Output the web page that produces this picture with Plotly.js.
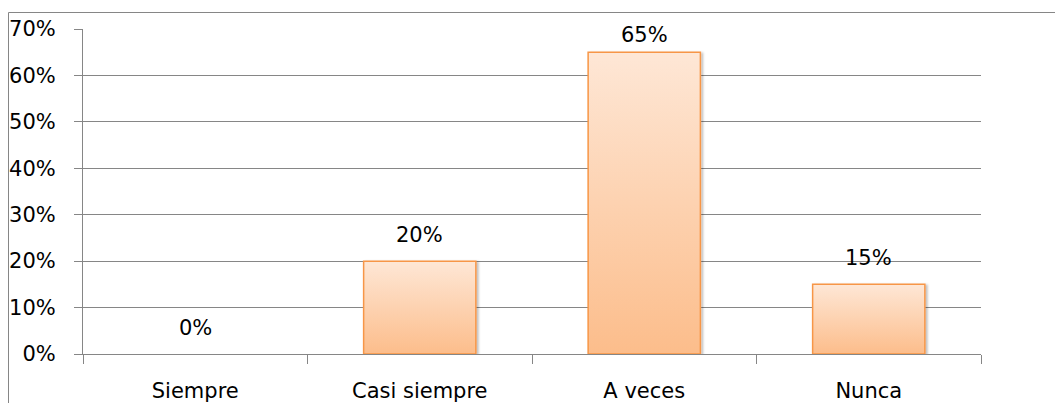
<!DOCTYPE html>
<html>
<head>
<meta charset="utf-8">
<script src="https://cdn.plot.ly/plotly-3.0.1.min.js"></script>
<style>
html,body{margin:0;padding:0;background:#fff;}
#chart{width:1055px;height:403px;}
</style>
</head>
<body>
<div id="chart"></div>
<script>
const categories = ["Siempre", "Casi siempre", "A veces", "Nunca"];
const values = [0, 0.20, 0.65, 0.15];
const labels = ["0%", "20%", "65%", "15%"];
const tickVals = [0, 0.1, 0.2, 0.3, 0.4, 0.5, 0.6, 0.7];
const tickText = ["0%", "10%", "20%", "30%", "40%", "50%", "60%", "70%"];

const FONT = "DejaVu Sans, Liberation Sans, sans-serif";
const FSIZE = 21;
const GRAY = "#868686";
const M = {l: 83, r: 74, t: 29, b: 49};
const W = 1055, H = 403;
const plotW = W - M.l - M.r, plotH = H - M.t - M.b;
const yMax = 0.7;

const annotations = values.map((v, i) => {
  const barTop = (yMax - v) / yMax * plotH;           // px from plot top
  const center = Math.max(barTop - 26, 6.5);          // keep label inside chart
  return {
    x: categories[i], y: v, xref: "x", yref: "y",
    text: labels[i], showarrow: false,
    yanchor: "middle", yshift: barTop - center,
    font: {family: FONT, size: FSIZE, color: "#000"}
  };
});

const px2xp = px => (px - M.l) / plotW;
const px2yp = py => (H - M.b - py) / plotH;

const shapes = [
  {type: "line", xref: "paper", yref: "paper", x0: px2xp(8.5), x1: px2xp(1056), y0: px2yp(12.5), y1: px2yp(12.5), line: {color: GRAY, width: 1}},
  {type: "line", xref: "paper", yref: "paper", x0: px2xp(8.5), x1: px2xp(8.5), y0: px2yp(12.5), y1: px2yp(404), line: {color: GRAY, width: 1}}
];

const trace = {
  type: "bar",
  x: categories,
  y: values,
  width: 0.5,
  marker: {color: "#fdd3b3", line: {color: "#f79646", width: 1.5}},
  hoverinfo: "none"
};

const layout = {
  width: W, height: H,
  margin: M,
  paper_bgcolor: "#fff", plot_bgcolor: "#fff",
  showlegend: false,
  font: {family: FONT, size: FSIZE, color: "#000"},
  xaxis: {
    type: "category",
    showline: true, linecolor: GRAY, linewidth: 1,
    ticks: "outside", tickson: "boundaries", ticklen: 9, tickcolor: GRAY,
    showgrid: false, zeroline: false,
    ticklabelstandoff: 18,
    tickfont: {family: FONT, size: FSIZE, color: "#000"}
  },
  yaxis: {
    range: [0, yMax],
    tickvals: tickVals, ticktext: tickText,
    showline: true, linecolor: GRAY, linewidth: 1,
    ticks: "outside", ticklen: 8, tickcolor: GRAY,
    showgrid: true, gridcolor: GRAY, gridwidth: 1,
    zeroline: false,
    ticklabelstandoff: 14,
    tickfont: {family: FONT, size: FSIZE, color: "#000"}
  },
  annotations: annotations,
  shapes: shapes
};

Plotly.newPlot("chart", [trace], layout, {staticPlot: true, displayModeBar: false}).then(gd => {
  const svg = gd.querySelector("svg.main-svg");
  const ns = "http://www.w3.org/2000/svg";
  let defs = svg.querySelector("defs");
  if (!defs) { defs = document.createElementNS(ns, "defs"); svg.insertBefore(defs, svg.firstChild); }
  const grad = document.createElementNS(ns, "linearGradient");
  grad.setAttribute("id", "barGrad");
  grad.setAttribute("x1", "0"); grad.setAttribute("y1", "0");
  grad.setAttribute("x2", "0"); grad.setAttribute("y2", "1");
  [["0", "#fee7d6"], ["1", "#fcbd8b"]].forEach(([o, c]) => {
    const s = document.createElementNS(ns, "stop");
    s.setAttribute("offset", o); s.setAttribute("stop-color", c);
    grad.appendChild(s);
  });
  defs.appendChild(grad);
  const filt = document.createElementNS(ns, "filter");
  filt.setAttribute("id", "barShadow");
  filt.setAttribute("x", "-10%"); filt.setAttribute("y", "-10%");
  filt.setAttribute("width", "130%"); filt.setAttribute("height", "130%");
  const ds = document.createElementNS(ns, "feDropShadow");
  ds.setAttribute("dx", "2"); ds.setAttribute("dy", "1");
  ds.setAttribute("stdDeviation", "1.2");
  ds.setAttribute("flood-color", "#000"); ds.setAttribute("flood-opacity", "0.25");
  filt.appendChild(ds);
  defs.appendChild(filt);
  gd.querySelectorAll(".barlayer .point path").forEach(p => {
    p.style.fill = "url(#barGrad)";
    p.setAttribute("filter", "url(#barShadow)");
  });
});
</script>
</body>
</html>
